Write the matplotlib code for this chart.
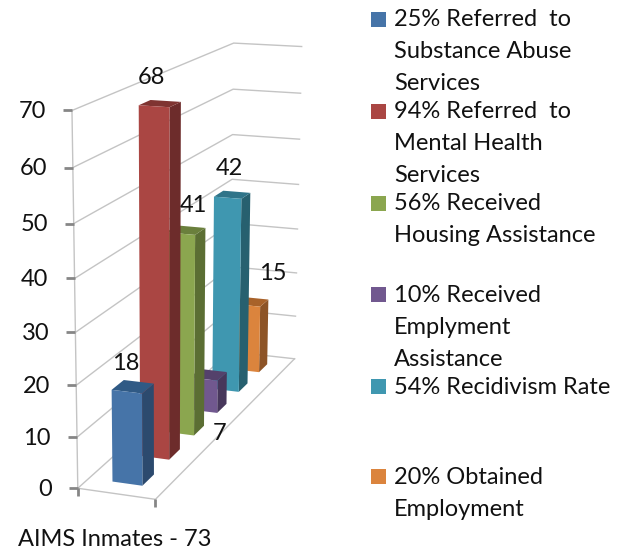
import numpy as np
import matplotlib
matplotlib.use("Agg")
import matplotlib.pyplot as plt
from matplotlib.patches import Polygon, Rectangle

category = "AIMS Inmates - 73"
series_names = [
    "25% Referred  to\nSubstance Abuse\nServices",
    "94% Referred  to\nMental Health\nServices",
    "56% Received\nHousing Assistance",
    "10% Received\nEmplyment\nAssistance",
    "54% Recidivism Rate",
    "20% Obtained\nEmployment",
]
values = [18, 68, 41, 7, 42, 15]
ticks = [0, 10, 20, 30, 40, 50, 60, 70]
front_colors = ["#4674A8", "#AA4643", "#8BA64F", "#71588F", "#3F97B0", "#DB843D"]
side_colors = ["#2C4A6E", "#6D2C2B", "#5B6E33", "#47375B", "#27606F", "#8D5427"]
top_colors = ["#305A85", "#7F3431", "#6A7F3C", "#54416B", "#2F7489", "#A8622A"]

vmax = 70.0


# camera fitted to the corners of the chart box: (depth, width, height) -> pixel
box = [
    ((0, 0, 0), (79, 489)), ((0, 0, 1), (73, 108)),
    ((0, 1, 0), (155, 499)), ((0, 1, 1), (153, 118)),
    ((1, 0, 0), (228, 352)), ((1, 0, 1), (234, 44)),
    ((1, 1, 0), (296, 358)), ((1, 1, 1), (302, 46)),
]
rows = []
for (a, b, c), (px, py) in box:
    rows.append([a, b, c, 1, 0, 0, 0, 0, -px * a, -px * b, -px * c, -px])
    rows.append([0, 0, 0, 0, a, b, c, 1, -py * a, -py * b, -py * c, -py])
P = np.linalg.svd(np.array(rows, float))[2][-1].reshape(3, 4)


def proj(depth, width, value):
    x, y, z = P @ np.array([depth, width, value / vmax, 1.0])
    return x / z, y / z


fig = plt.figure(figsize=(6.18, 5.55), dpi=100)
ax = fig.add_axes([0, 0, 1, 1])
ax.set_xlim(0, 618)
ax.set_ylim(555, 0)
ax.axis("off")
plt.rcParams["font.family"] = ["Lato", "DejaVu Sans"]

grid = "#C4C4C4"
for t in ticks:
    pts = [proj(0, 0, t), proj(1, 0, t), proj(1, 1, t)]
    ax.plot(*zip(*pts), color=grid, lw=1, zorder=1)
    x, y = pts[0]
    ax.plot([x - 9, x], [y, y], color="#868686", lw=2, zorder=2, solid_capstyle="butt")
    ax.text(x - 26, y + 1, str(t), ha="right", va="center", fontsize=17, color="#111111")

ax.plot(*zip(proj(0, 0, 0), proj(0, 0, vmax)), color=grid, lw=1, zorder=1)
ax.plot(*zip(proj(0, 0, 0), proj(0, 1, 0), proj(1, 1, 0)), color=grid, lw=1, zorder=1)
for w in [0, 1]:
    x, y = proj(0, w, 0)
    ax.plot([x, x], [y, y + 8], color="#868686", lw=2, zorder=2, solid_capstyle="butt")

start, step, thick = 0.06, 0.161, 0.068
w0, w1 = 0.31, 0.70
order = list(range(len(values)))[::-1]
for n, i in enumerate(order):
    u0 = start + step * i
    u1 = u0 + thick
    v = values[i]
    zo = 3 + n
    front = [proj(u0, w0, 0), proj(u0, w1, 0), proj(u0, w1, v), proj(u0, w0, v)]
    side = [proj(u0, w1, 0), proj(u1, w1, 0), proj(u1, w1, v), proj(u0, w1, v)]
    top = [proj(u0, w0, v), proj(u0, w1, v), proj(u1, w1, v), proj(u1, w0, v)]
    ax.add_patch(Polygon(side, closed=True, fc=side_colors[i], ec="none", zorder=zo))
    ax.add_patch(Polygon(top, closed=True, fc=top_colors[i], ec="none", zorder=zo))
    ax.add_patch(Polygon(front, closed=True, fc=front_colors[i], ec="none", zorder=zo))

# data labels, offset from the front top corner of each bar
label_offsets = [(14, -26), (13, -28), (27, -27), (29, 56), (15, -28), (39, -31)]
for i, v in enumerate(values):
    x, y = proj(start + step * i, w0, v)
    dx, dy = label_offsets[i]
    ax.text(x + dx, y + dy, str(v), ha="center", va="center", fontsize=17, color="#111111", zorder=20)

ax.text(115, 539, category, ha="center", va="center", fontsize=17, color="#111111")

legend_y = [19, 111, 203, 294, 386, 476]
line_gap = 32
for i, name in enumerate(series_names):
    y = legend_y[i]
    ax.add_patch(Rectangle((371, y - 7), 15, 15, fc=front_colors[i], ec="none"))
    for j, line in enumerate(name.split("\n")):
        ax.text(394, y + 1 + j * line_gap, line, ha="left", va="center", fontsize=17, color="#111111")

fig.savefig("out.png", dpi=100)
